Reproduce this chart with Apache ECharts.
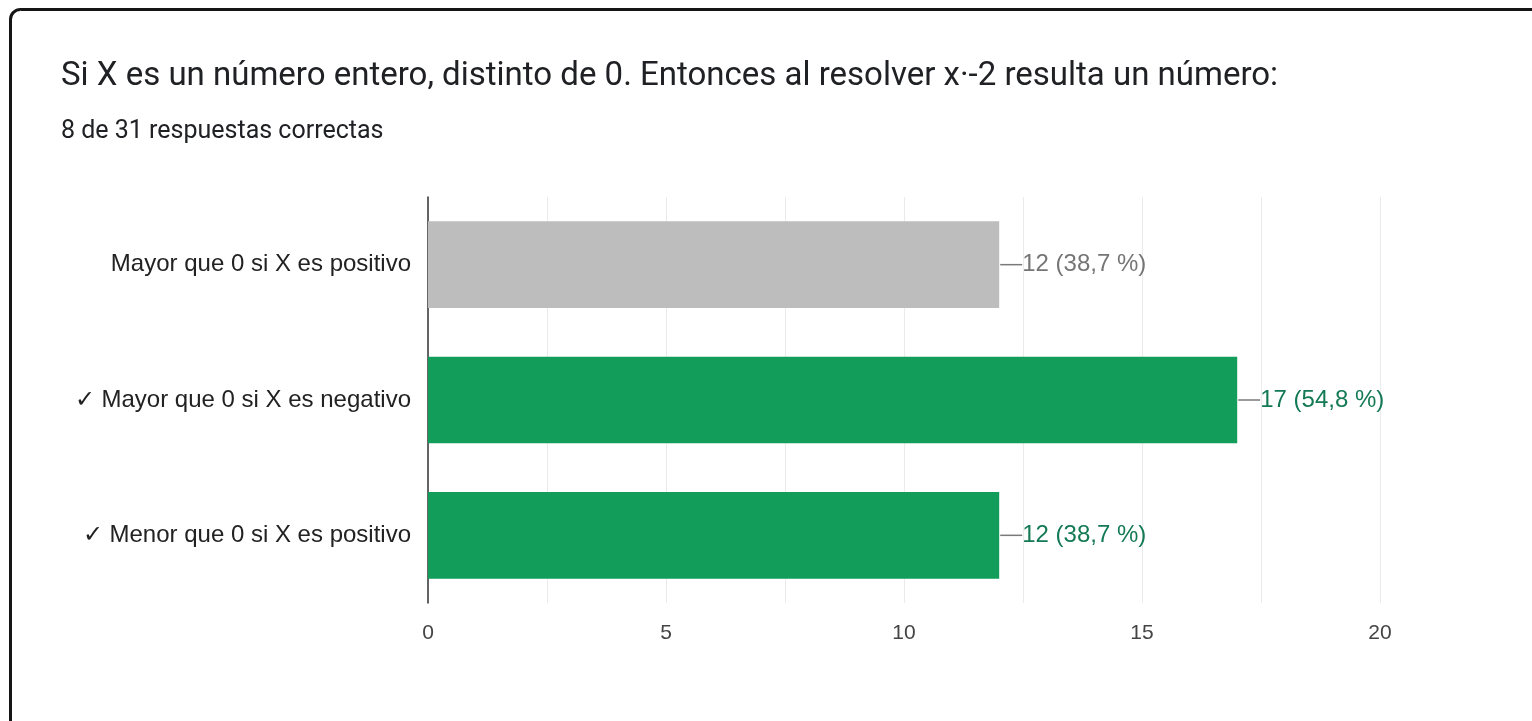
<!DOCTYPE html>
<html>
<head>
<meta charset="utf-8">
<script src="https://cdn.jsdelivr.net/npm/echarts@6/dist/echarts.min.js"></script>
<style>
  html, body { margin: 0; padding: 0; background: #fff; }
  #chart { width: 1532px; height: 721px; }
</style>
</head>
<body>
<div id="chart"></div>
<script type="text/javascript">
    var titleText = 'Si X es un número entero, distinto de 0. Entonces al resolver x·-2 resulta un número:';
    var subtitleText = '8 de 31 respuestas correctas';
    var categories = ['Mayor que 0 si X es positivo', '✓ Mayor que 0 si X es negativo', '✓ Menor que 0 si X es positivo'];
    var counts = [12, 17, 12];
    var percents = ['38,7', '54,8', '38,7'];
    var correct = [false, true, true];

    var green = '#129d5a';
    var gray = '#bdbdbd';

    var barData = [];
    for (var i = 0; i < counts.length; i++) {
        barData.push({
            value: counts[i],
            itemStyle: { color: correct[i] ? green : gray }
        });
    }

    var myChart = echarts.init(document.getElementById('chart'));
    myChart.setOption({
        animation: false,
        graphic: [
            {
                type: 'rect',
                z: 0,
                shape: { x: 10.5, y: 9.5, width: 1700, height: 900, r: 10 },
                style: { fill: '#fff', stroke: '#151515', lineWidth: 3 }
            },
            {
                type: 'text',
                z: 10,
                style: { x: 61, y: 77, text: titleText, fill: '#202124', font: '33px Roboto', verticalAlign: 'middle' }
            },
            {
                type: 'text',
                z: 10,
                style: { x: 61, y: 132, text: subtitleText, fill: '#202124', font: '25px Roboto', verticalAlign: 'middle' }
            }
        ],
        grid: {
            left: 428, right: 152, top: 197, bottom: 118,
            show: true, borderColor: '#ebebeb', borderWidth: 1, backgroundColor: 'transparent'
        },
        xAxis: {
            type: 'value',
            min: 0, max: 20, interval: 5,
            axisLine: { show: false },
            axisTick: { show: false },
            minorTick: { show: false, splitNumber: 2 },
            splitLine: { lineStyle: { color: '#ebebeb' } },
            minorSplitLine: { show: true, lineStyle: { color: '#ebebeb' } },
            axisLabel: { color: '#444', fontSize: 21, fontFamily: 'Liberation Sans, Arial', margin: 20 }
        },
        yAxis: {
            type: 'category',
            inverse: true,
            data: categories,
            axisLine: { show: true, lineStyle: { color: '#333', width: 1.5 } },
            axisTick: { show: false },
            axisLabel: { color: '#222', fontSize: 24, fontFamily: 'Liberation Sans, Arial', margin: 17 }
        },
        series: [{
            type: 'bar',
            data: barData,
            barCategoryGap: '36%',
            label: {
                show: true,
                position: 'right',
                distance: 1,
                formatter: function (p) {
                    var t = p.value + ' (' + percents[p.dataIndex] + ' %)';
                    return '{l|}' + (correct[p.dataIndex] ? '{g|' + t + '}' : '{n|' + t + '}');
                },
                rich: {
                    l: { width: 22, height: 1.5, backgroundColor: '#7a7a7a' },
                    g: { color: '#137a55', fontSize: 24, fontFamily: 'Liberation Sans, Arial' },
                    n: { color: '#757575', fontSize: 24, fontFamily: 'Liberation Sans, Arial' }
                }
            }
        }]
    });
</script>
</body>
</html>
